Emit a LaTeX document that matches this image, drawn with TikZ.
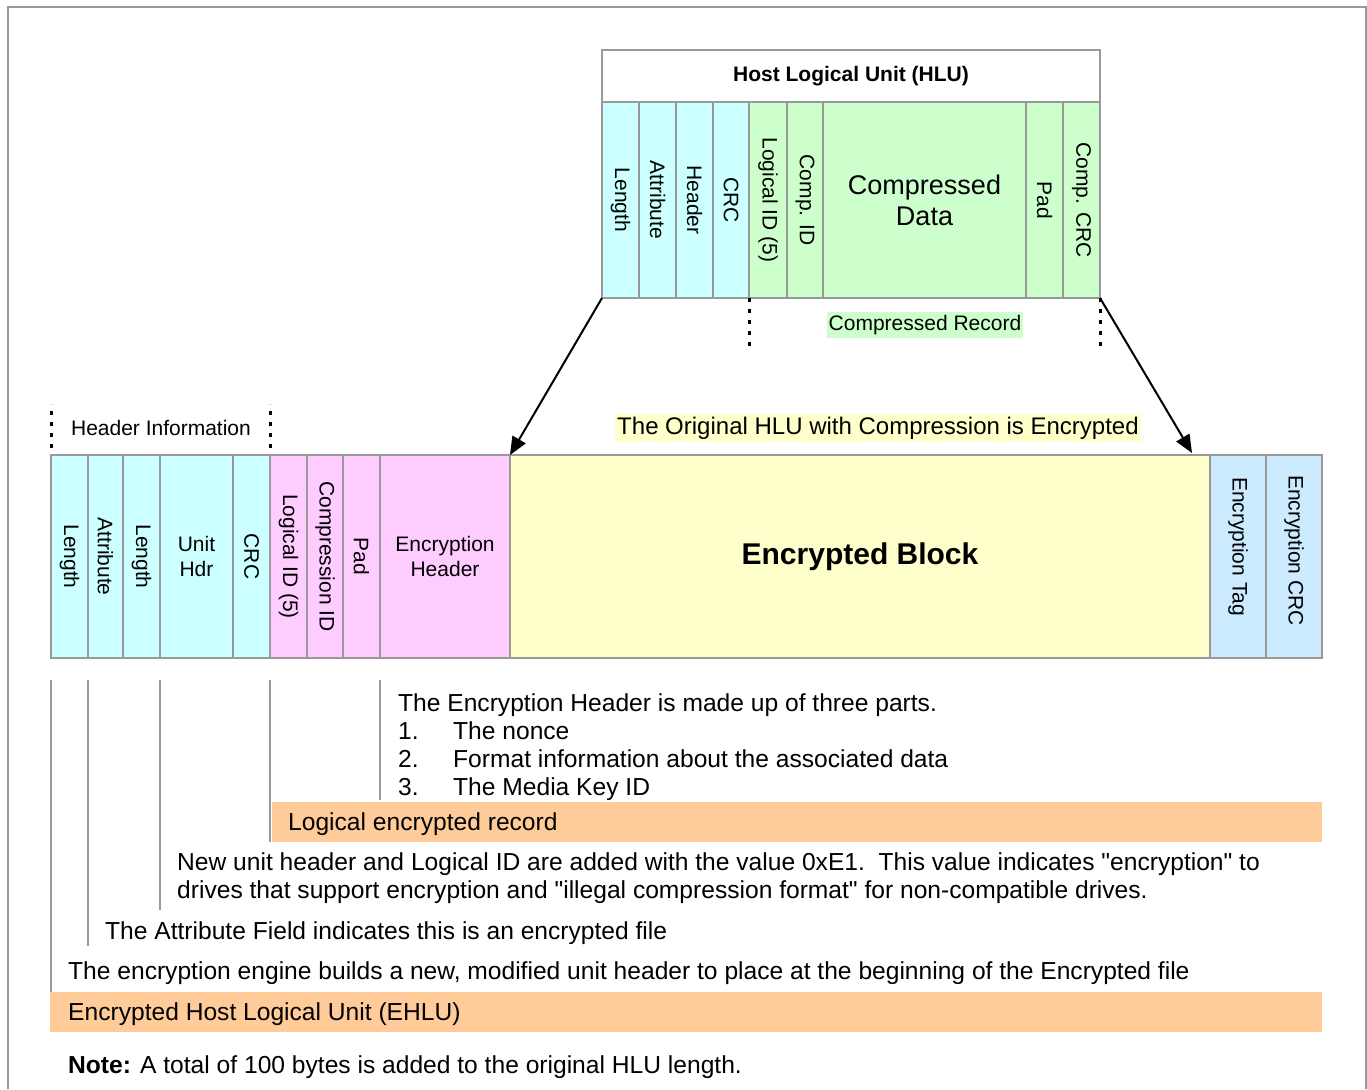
\documentclass[tikz,border=0pt]{standalone}
\usepackage{fontspec}
\setmainfont{Liberation Sans}
\usetikzlibrary{arrows.meta}
\definecolor{bordergray}{HTML}{999999}
\definecolor{cyanF}{HTML}{CCFFFF}
\definecolor{greenF}{HTML}{CCFFCC}
\definecolor{pinkF}{HTML}{FFCCFF}
\definecolor{yellowF}{HTML}{FFFFCC}
\definecolor{blueF}{HTML}{CCEBFF}
\definecolor{orangeF}{HTML}{FFCC99}
\newcommand\fsz[2]{\fontsize{#1}{#2}\selectfont}
\newcommand\dq{\XeTeXglyph\the\XeTeXcharglyph"22\relax}
\newcommand\fieldat[6]{\node[fld, fill=#6, minimum width={(#3-#2)*1pt}, minimum height={(#5-#4)*1pt}] (#1) at (#2,#4) {};}
\begin{document}
\begin{tikzpicture}[x=1pt,y=-1pt,
  fld/.style={draw=bordergray, line width=2.5pt, inner sep=0pt, outer sep=0pt, anchor=north west},
  rot/.style={rotate=-90, font=\fsz{21}{25}, inner sep=0pt},
  lbl/.style={font=\fsz{21}{25}, inner sep=0pt, align=center},
  txt/.style={font=\fsz{24.6}{28}, inner sep=0pt, anchor=base west},
  bar/.style={fill=orangeF, inner sep=0pt, outer sep=0pt, anchor=north west},
  arr/.style={line width=2pt, -{Triangle[length=18pt,width=15pt]}},
  dots/.style={line width=3pt, dash pattern=on 4pt off 7pt},
  ann/.style={draw=bordergray, line width=2pt}]
\useasboundingbox (0,0) rectangle (1367,1089);
\fill[white] (0,0) rectangle (1367,1089);
% frame
\draw[bordergray, line width=2.5pt] (8,1089) -- (8,7) -- (1366,7) -- (1366,1089);

% HLU
\node[fld, fill=white, minimum width=498pt, minimum height=52pt] (hlu) at (602,50) {};
\node[font=\bfseries\fsz{21}{25}, inner sep=0pt] at (hlu.center) {Host Logical Unit (HLU)};
\fieldat{h1}{602}{639}{102}{298}{cyanF}
\fieldat{h2}{639}{676}{102}{298}{cyanF}
\fieldat{h3}{676}{713}{102}{298}{cyanF}
\fieldat{h4}{713}{749}{102}{298}{cyanF}
\fieldat{h5}{749}{787}{102}{298}{greenF}
\fieldat{h6}{787}{823}{102}{298}{greenF}
\fieldat{h7}{823}{1026}{102}{298}{greenF}
\fieldat{h8}{1026}{1063}{102}{298}{greenF}
\fieldat{h9}{1063}{1100}{102}{298}{greenF}
\node[rot] at (h1.center) {Length};
\node[rot] at (h2.center) {Attribute};
\node[rot] at (h3.center) {Header};
\node[rot] at (h4.center) {CRC};
\node[rot] at (h5.center) {Logical ID (5)};
\node[rot] at (h6.center) {Comp. ID};
\node[lbl, font=\fsz{27}{31}] at (h7.center) {Compressed\\Data};
\node[rot] at (h8.center) {Pad};
\node[rot] at (h9.center) {Comp. CRC};

% compressed record
\draw[dots] (h5.south west) -- ++(0,54);
\draw[dots] (h9.south east) -- ++(0,54);
\node[lbl, fill=greenF, inner xsep=2pt, inner ysep=3pt] (crec) at (925,325) {Compressed Record};

% EHLU
\fieldat{e1}{51}{88}{455}{658}{cyanF}
\fieldat{e2}{88}{123}{455}{658}{cyanF}
\fieldat{e3}{123}{160}{455}{658}{cyanF}
\fieldat{e4}{160}{233}{455}{658}{cyanF}
\fieldat{e5}{233}{270}{455}{658}{cyanF}
\fieldat{e6}{270}{307}{455}{658}{pinkF}
\fieldat{e7}{307}{343}{455}{658}{pinkF}
\fieldat{e8}{343}{380}{455}{658}{pinkF}
\fieldat{e9}{380}{510}{455}{658}{pinkF}
\fieldat{eb}{510}{1210}{455}{658}{yellowF}
\fieldat{e10}{1210}{1266}{455}{658}{blueF}
\fieldat{e11}{1266}{1322}{455}{658}{blueF}
\node[rot] at (e1.center) {Length};
\node[rot] at (e2.center) {Attribute};
\node[rot] at (e3.center) {Length};
\node[lbl] at (e4.center) {Unit\\Hdr};
\node[rot] at (e5.center) {CRC};
\node[rot] at (e6.center) {Logical ID (5)};
\node[rot] at (e7.center) {Compression ID};
\node[rot] at (e8.center) {Pad};
\node[lbl] at (e9.center) {Encryption\\Header};
\node[font=\bfseries\fsz{30}{36}, inner sep=0pt] at (eb.center) {Encrypted Block};
\node[rot] at ([yshift=10pt]e10.center) {Encryption Tag};
\node[rot] at ([yshift=6pt]e11.center) {Encryption CRC};

% header information
\draw[dots] (e1.north west) ++(0,-7) -- ++(0,-44);
\draw[dots] (e5.north east) ++(0,-7) -- ++(0,-44);
\node[lbl] (hinfo) at (161,428) {Header Information};
\node[lbl, font=\fsz{24}{28}, fill=yellowF, inner xsep=2pt, inner ysep=3pt] (orig) at (878,428) {The Original HLU with Compression is Encrypted};

% arrows
\coordinate (rtip) at (1192,453);
\draw[arr] (h1.south west) -- (eb.north west);
\draw[arr] (h9.south east) -- (rtip);

% annotation lines
\draw[ann] (51,680) -- (51,992);
\draw[ann] (88,680) -- (88,946);
\draw[ann] (160,680) -- (160,910);
\draw[ann] (270,680) -- (270,842);
\draw[ann] (380,680) -- (380,800);

% texts
\node[txt] (t1) at (398,711) {The Encryption Header is made up of three parts.};
\node[txt] (n1) at (398,739) {1.};
\node[txt] (i1) at (453,739) {The nonce};
\node[txt] (n2) at (398,767) {2.};
\node[txt] (i2) at (453,767) {Format information about the associated data};
\node[txt] (n3) at (398,795) {3.};
\node[txt] (i3) at (453,795) {The Media Key ID};

\node[bar, minimum width=1050pt, minimum height=40pt] (ler) at (272,802) {};
\node[txt] (lert) at (288,830) {Logical encrypted record};

\node[txt] (t2) at (177,870) {New unit header and Logical ID are added with the value 0xE1.\ \ This value indicates \dq encryption\dq\ to};
\node[txt] (t3) at (177,898) {drives that support encryption and \dq illegal compression format\dq\ for non-compatible drives.};
\node[txt] (t4) at (105,939) {The Attribute Field indicates this is an encrypted file};
\node[txt] (t5) at (68,979) {The encryption engine builds a new, modified unit header to place at the beginning of the Encrypted file};

\node[bar, minimum width=1272pt, minimum height=40pt] (ehlu) at (50,992) {};
\node[txt] (ehlut) at (68,1020) {Encrypted Host Logical Unit (EHLU)};

\node[txt] (note) at (68,1073) {\textbf{Note:} A total of 100 bytes is added to the original HLU length.};
\end{tikzpicture}
\end{document}
